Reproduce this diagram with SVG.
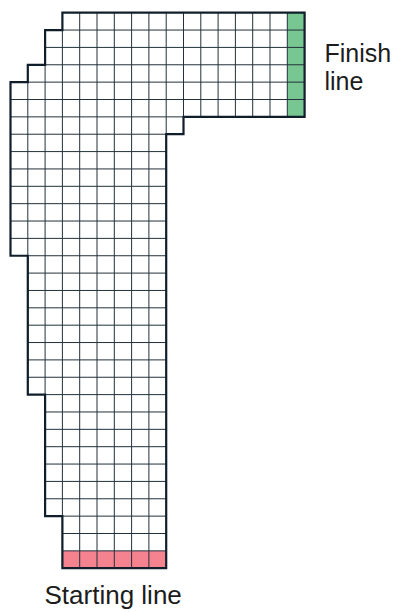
<svg xmlns="http://www.w3.org/2000/svg" width="400" height="612" viewBox="0 0 400 612">
<style>
.grid line{stroke:#22313b;stroke-width:1;vector-effect:non-scaling-stroke}
.border{fill:none;stroke:#0f1e2a;stroke-width:2.2;stroke-linejoin:miter;vector-effect:non-scaling-stroke}
.label{font-family:"Liberation Sans",Arial,sans-serif;font-size:25px;fill:#1c1c1c}
</style>
<rect width="400" height="612" fill="#ffffff"/>
<g id="track" transform="translate(10.5,12.7) scale(17.3,17.36)">
<path id="track-area" d="M3 0H17V6H10V7H9V32H3V29H2V22H1V14H0V4H1V3H2V1H3Z" fill="#ffffff"/>
<rect id="finish-line-cells" x="16" y="0" width="1" height="6" fill="#78c691"/>
<rect id="starting-line-cells" x="3" y="31" width="6" height="1" fill="#f4838f"/>
<g class="grid">
<line x1="2" y1="1" x2="17" y2="1"/>
<line x1="2" y1="2" x2="17" y2="2"/>
<line x1="1" y1="3" x2="17" y2="3"/>
<line x1="0" y1="4" x2="17" y2="4"/>
<line x1="0" y1="5" x2="17" y2="5"/>
<line x1="0" y1="6" x2="10" y2="6"/>
<line x1="0" y1="7" x2="9" y2="7"/>
<line x1="0" y1="8" x2="9" y2="8"/>
<line x1="0" y1="9" x2="9" y2="9"/>
<line x1="0" y1="10" x2="9" y2="10"/>
<line x1="0" y1="11" x2="9" y2="11"/>
<line x1="0" y1="12" x2="9" y2="12"/>
<line x1="0" y1="13" x2="9" y2="13"/>
<line x1="1" y1="14" x2="9" y2="14"/>
<line x1="1" y1="15" x2="9" y2="15"/>
<line x1="1" y1="16" x2="9" y2="16"/>
<line x1="1" y1="17" x2="9" y2="17"/>
<line x1="1" y1="18" x2="9" y2="18"/>
<line x1="1" y1="19" x2="9" y2="19"/>
<line x1="1" y1="20" x2="9" y2="20"/>
<line x1="1" y1="21" x2="9" y2="21"/>
<line x1="2" y1="22" x2="9" y2="22"/>
<line x1="2" y1="23" x2="9" y2="23"/>
<line x1="2" y1="24" x2="9" y2="24"/>
<line x1="2" y1="25" x2="9" y2="25"/>
<line x1="2" y1="26" x2="9" y2="26"/>
<line x1="2" y1="27" x2="9" y2="27"/>
<line x1="2" y1="28" x2="9" y2="28"/>
<line x1="3" y1="29" x2="9" y2="29"/>
<line x1="3" y1="30" x2="9" y2="30"/>
<line x1="3" y1="31" x2="9" y2="31"/>
<line x1="1" y1="4" x2="1" y2="22"/>
<line x1="2" y1="3" x2="2" y2="29"/>
<line x1="3" y1="1" x2="3" y2="32"/>
<line x1="4" y1="0" x2="4" y2="32"/>
<line x1="5" y1="0" x2="5" y2="32"/>
<line x1="6" y1="0" x2="6" y2="32"/>
<line x1="7" y1="0" x2="7" y2="32"/>
<line x1="8" y1="0" x2="8" y2="32"/>
<line x1="9" y1="0" x2="9" y2="7"/>
<line x1="10" y1="0" x2="10" y2="6"/>
<line x1="11" y1="0" x2="11" y2="6"/>
<line x1="12" y1="0" x2="12" y2="6"/>
<line x1="13" y1="0" x2="13" y2="6"/>
<line x1="14" y1="0" x2="14" y2="6"/>
<line x1="15" y1="0" x2="15" y2="6"/>
<line x1="16" y1="0" x2="16" y2="6"/>
</g>
<path class="border" d="M3 0H17V6H10V7H9V32H3V29H2V22H1V14H0V4H1V3H2V1H3Z"/>
</g>
<g id="finish-label">
<text class="label" x="324.5" y="62">Finish</text>
<text class="label" x="324.5" y="90">line</text>
</g>
<g id="start-label">
<text class="label" x="44.5" y="604" style="font-size:26px">Starting line</text>
</g>
</svg>
